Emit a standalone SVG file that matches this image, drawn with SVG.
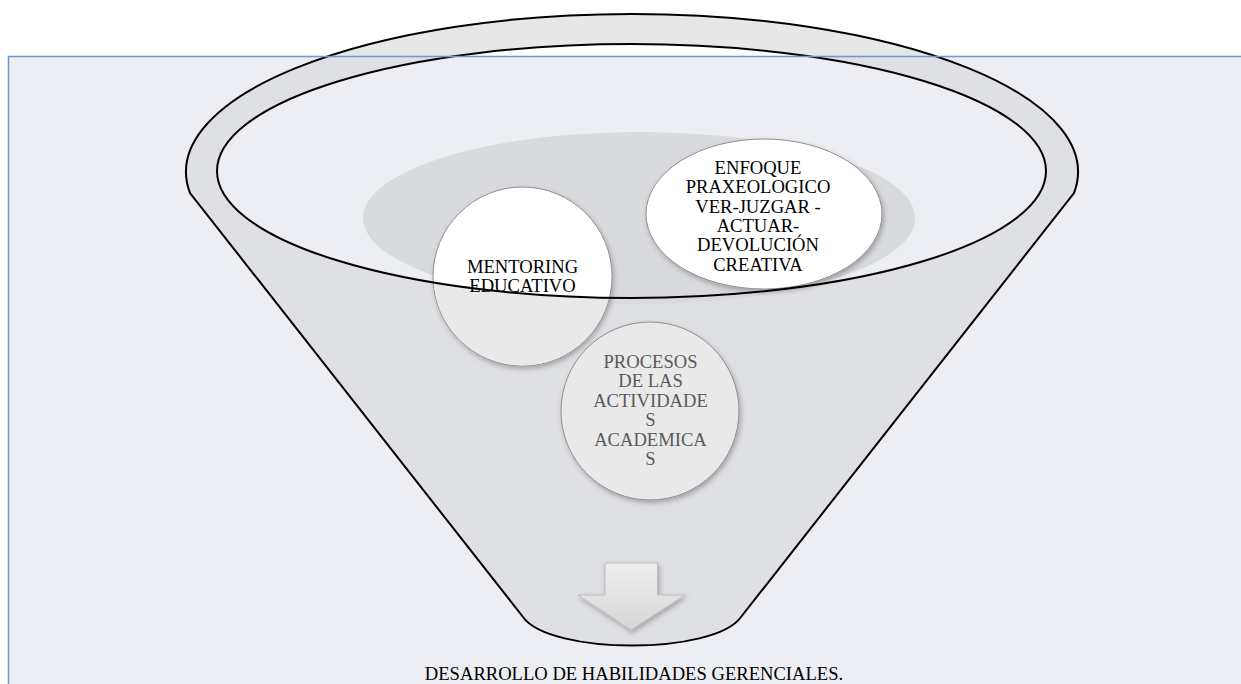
<svg xmlns="http://www.w3.org/2000/svg" width="1241" height="684" viewBox="0 0 1241 684">
  <defs>
    <style>
      .lbl { font-family: "Liberation Serif", "Times New Roman", serif; font-size: 18.6px; text-anchor: middle; fill: #000; }
      .lbl-grey { fill: #595959; }
      .node-shape { stroke: #8f8f8f; stroke-width: 1; }
      .funnel-line { fill: none; stroke: #000; stroke-width: 2; }
    </style>
    <filter id="shadow" x="-20%" y="-20%" width="140%" height="140%">
      <feDropShadow dx="1.5" dy="2.5" stdDeviation="2.5" flood-color="#000" flood-opacity="0.28"/>
    </filter>
    <filter id="soft" x="-10%" y="-30%" width="120%" height="160%">
      <feGaussianBlur stdDeviation="2"/>
    </filter>
    <clipPath id="aboveRect">
      <rect x="0" y="0" width="1241" height="56"/>
    </clipPath>
    <clipPath id="outsideInner">
      <path clip-rule="evenodd" d="M0,0 H1241 V684 H0 Z M217,171 A414.5,127 0 1 0 1046,171 A414.5,127 0 1 0 217,171 Z"/>
    </clipPath>
    <linearGradient id="arrowGrad" x1="0" y1="0" x2="0" y2="1">
      <stop offset="0" stop-color="#EFEFEF"/>
      <stop offset="1" stop-color="#D6D6D6"/>
    </linearGradient>
  </defs>

  <rect x="0" y="0" width="1241" height="684" fill="#ffffff"/>
  <!-- background panel fill -->
  <rect x="8.5" y="56.5" width="1240" height="640" fill="#ECEEF3"/>

  <!-- funnel body -->
  <g id="funnel-body">
    <path fill="#DFE0E4" fill-rule="evenodd" d="M190,193 A446,158 0 1 1 1074,193 L741,617 C714,655 550,655 523,617 Z M217,171 A414.5,127 0 1 0 1046,171 A414.5,127 0 1 0 217,171 Z"/>
    <path fill="#E7E7E7" fill-rule="evenodd" clip-path="url(#aboveRect)" d="M190,193 A446,158 0 1 1 1074,193 L741,617 C714,655 550,655 523,617 Z M217,171 A414.5,127 0 1 0 1046,171 A414.5,127 0 1 0 217,171 Z"/>
    <ellipse cx="639" cy="218" rx="276" ry="86" fill="#D9DADE"/>
  </g>

  <g id="node-mentoring">
    <circle cx="522.5" cy="276.5" r="89.5" fill="#ffffff" class="node-shape" filter="url(#shadow)"/>
    <circle cx="522.5" cy="276.5" r="89" fill="#E9E9E9" clip-path="url(#outsideInner)"/>
    <text class="lbl" x="522.5" y="273">MENTORING</text>
    <text class="lbl" x="522.5" y="292">EDUCATIVO</text>
  </g>

  <g id="node-enfoque">
    <ellipse cx="764" cy="214" rx="118" ry="75" fill="#ffffff" class="node-shape" filter="url(#shadow)"/>
    <text class="lbl" x="758" y="174">ENFOQUE</text>
    <text class="lbl" x="758" y="193.3">PRAXEOLOGICO</text>
    <text class="lbl" x="758" y="212.6">VER-JUZGAR -</text>
    <text class="lbl" x="758" y="231.9">ACTUAR-</text>
    <text class="lbl" x="758" y="251.2">DEVOLUCIÓN</text>
    <text class="lbl" x="758" y="270.5">CREATIVA</text>
  </g>

  <g id="node-procesos">
    <circle cx="650" cy="411" r="89" fill="#E9E9E9" class="node-shape" filter="url(#shadow)"/>
    <text class="lbl lbl-grey" x="650.5" y="368">PROCESOS</text>
    <text class="lbl lbl-grey" x="650.5" y="387.4">DE LAS</text>
    <text class="lbl lbl-grey" x="650.5" y="406.8">ACTIVIDADE</text>
    <text class="lbl lbl-grey" x="650.5" y="426.2">S</text>
    <text class="lbl lbl-grey" x="650.5" y="445.6">ACADEMICA</text>
    <text class="lbl lbl-grey" x="650.5" y="465">S</text>
  </g>

  <g id="connectors">
    <polygon points="605,563 657.5,563 657.5,595 685,595 631,630 578,595 605,595" fill="url(#arrowGrad)" stroke="#BDBDBD" stroke-width="1" filter="url(#shadow)"/>
  </g>

  <!-- funnel outlines -->
  <g id="funnel-outline">
    <path class="funnel-line" d="M190,193 A446,158 0 1 1 1074,193 L741,617 C714,655 550,655 523,617 Z"/>
    <ellipse class="funnel-line" cx="631.5" cy="171" rx="414.5" ry="127"/>
  </g>

  <!-- panel border -->
  <rect x="8.5" y="56.5" width="1240" height="640" fill="none" stroke="#6A98CF" stroke-width="1.5"/>

  <g id="node-result">
    <text class="lbl" x="634" y="680">DESARROLLO DE HABILIDADES GERENCIALES.</text>
  </g>
</svg>
